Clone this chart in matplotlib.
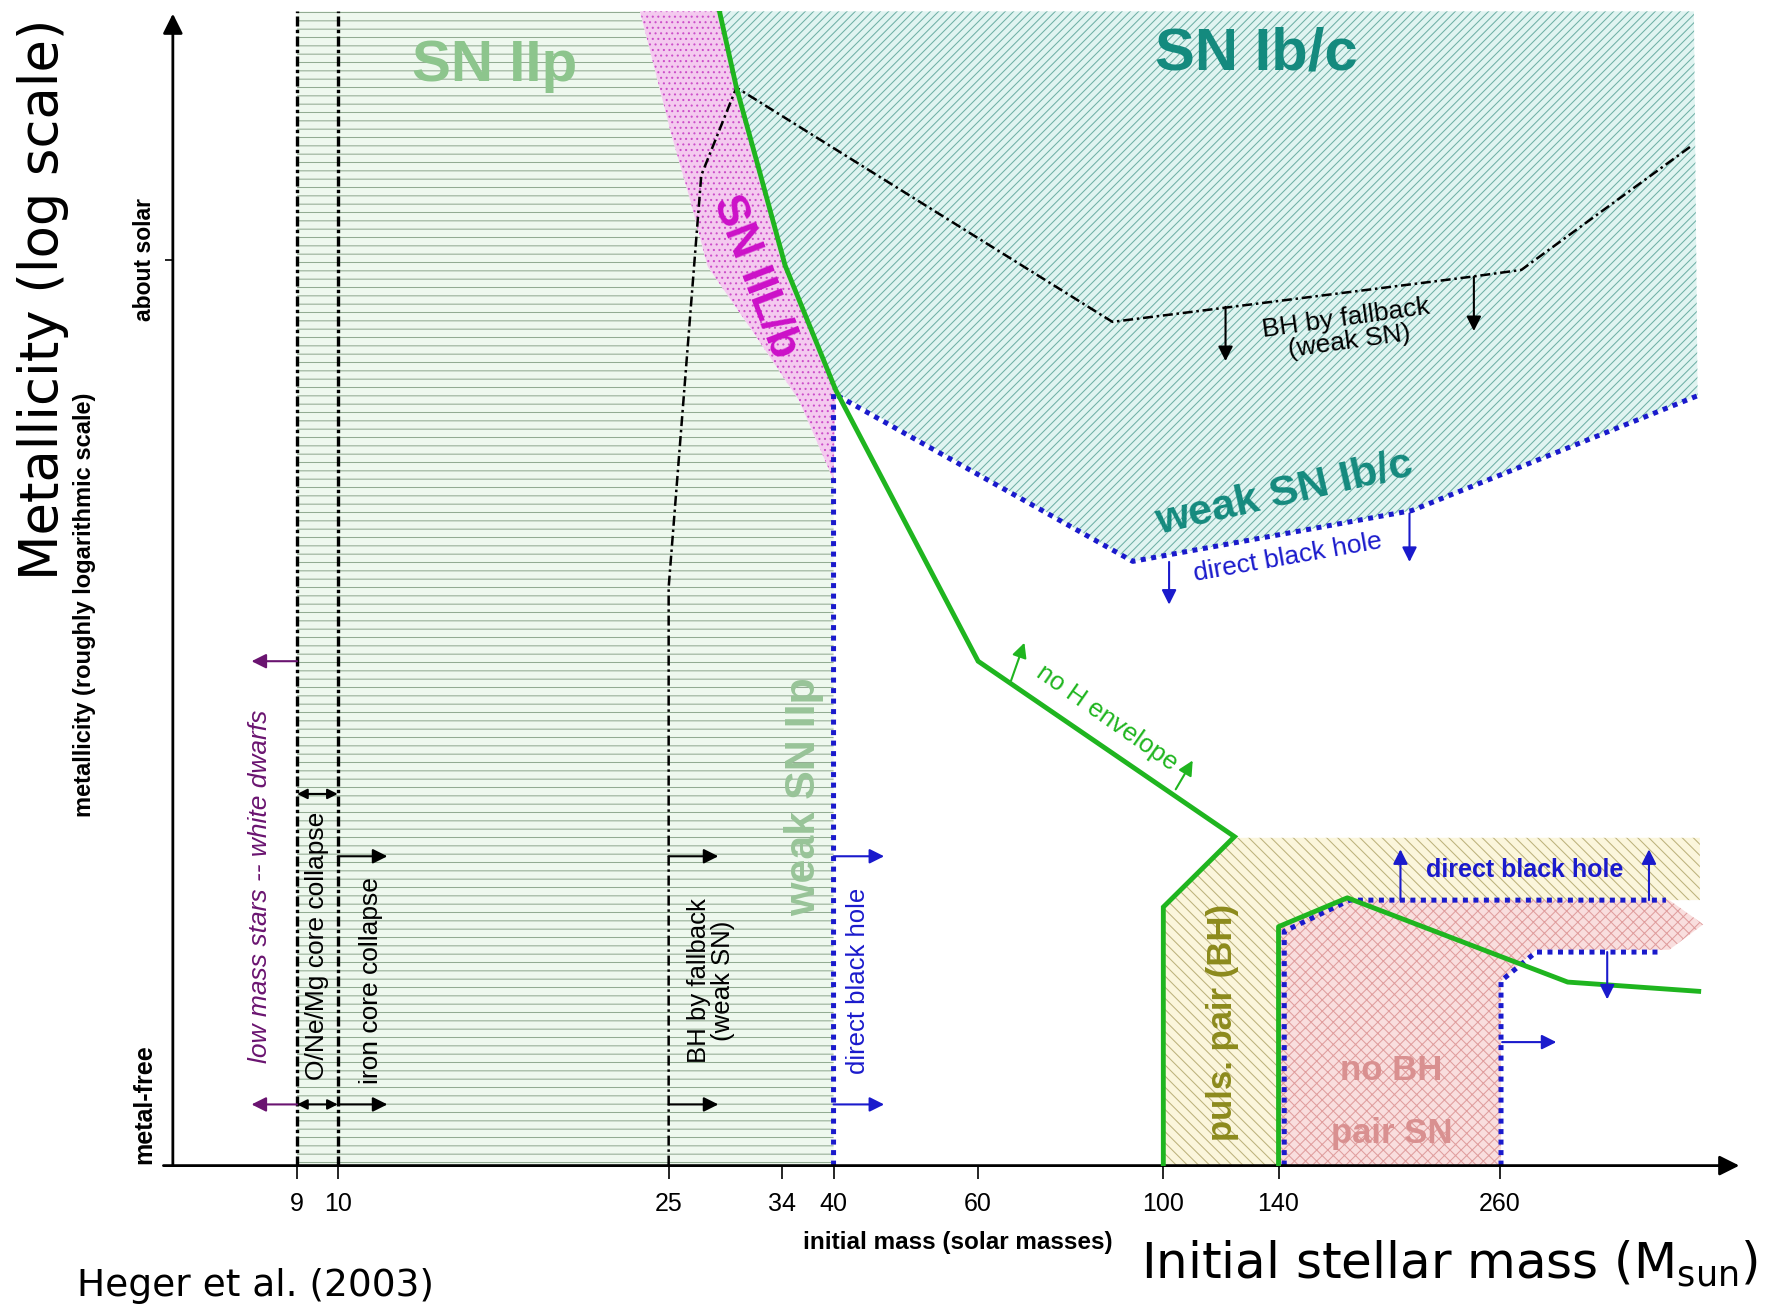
import numpy as np
import matplotlib
matplotlib.use("Agg")
import matplotlib.pyplot as plt

# schematic of supernova type vs initial mass / metallicity (Heger et al. 2003)
# x axis is a stretched mass axis: tick masses sit at fixed spots, so the
# scale is piecewise linear between anchor masses (FuncScale does the work)
MASS_ANCHORS = [6, 9, 10, 25, 34, 40, 60, 100, 140, 260, 500]
POS_ANCHORS = [153, 263, 299, 592, 692, 738, 866, 1030, 1132, 1328, 1545]
TICK_MASSES = [9, 10, 25, 34, 40, 60, 100, 140, 260]
TICK_LABELS = ["9", "10", "25", "34", "40", "60", "100", "140", "260"]

# metallicity is schematic: 0 = bottom of the axis, 100 = top
SOLAR_Z = 78.5
METAL_FREE_Z = 5.3

# ---- regions (mass, metallicity) ----
IIP_M = [9, 23.7, 25.2, 26.7, 28.1, 31.8, 36.0, 40, 40, 9]
IIP_Z = [100, 100, 89.4, 83.7, 77.9, 72.1, 66.3, 59.4, 0, 0]

IILB_M = [23.7, 29.05, 30.4, 32.2, 34.4, 40.3, 40, 36.0, 31.8, 28.1, 26.7, 25.2]
IILB_Z = [100, 100, 93.4, 86.3, 78.0, 67.2, 59.4, 66.3, 72.1, 77.9, 83.7, 89.4]

IBC_M = [29.05, 450, 453.6, 212.2, 93.4, 40.6, 40.3, 34.4, 32.2, 30.4]
IBC_Z = [100, 100, 66.7, 56.75, 52.35, 66.9, 67.2, 78.0, 86.3, 93.4]

PULS_M = [100, 100, 124.7, 455.8, 455.8, 178.6, 140, 140]
PULS_Z = [0, 22.4, 28.4, 28.4, 23.0, 23.0, 20.7, 0]

PAIR_M = [140, 140, 177.3, 425.9, 459.1, 425.9, 295.4, 261.1, 261.1]
PAIR_Z = [0, 20.7, 23.0, 23.0, 20.9, 18.7, 18.7, 16.0, 0]

# ---- boundary lines ----
H_ENV_M = [29.05, 30.4, 32.2, 34.4, 40.3, 60, 124.7, 100, 100]
H_ENV_Z = [100, 93.4, 86.3, 78.0, 67.2, 43.7, 28.5, 22.4, 0]
PAIR_EDGE_M = [140, 140, 177.3, 326.4, 454.7]
PAIR_EDGE_Z = [0, 20.7, 23.2, 15.9, 15.1]
FALLBACK_M = [25, 25, 27.6, 30.4, 89.0, 244.1, 281.0, 446.9]
FALLBACK_Z = [0, 50.1, 85.8, 93.4, 73.1, 77.0, 77.6, 88.3]
DIRECT_BH_M = [40, 40, 93.4, 212.2, 453.6]
DIRECT_BH_Z = [0, 66.9, 52.35, 56.75, 66.7]
PAIR_BH_M = [143.1, 143.1, 178.6, 422.6]
PAIR_BH_Z = [0, 20.3, 23.0, 23.0]
NO_BH_M = [261.1, 261.1, 295.4, 417.1]
NO_BH_Z = [0, 16.0, 18.5, 18.5]
WD_LIMITS = [9, 10]

PURPLE = "#6a1470"
BLUE = "#1a1acc"
GREEN = "#1fb51f"

# arrows: start mass, start z, end mass, end z, colour
ARROWS = [
    (9, 43.7, 7.9, 43.7, PURPLE),
    (9, 5.3, 7.9, 5.3, PURPLE),
    (10, 26.8, 12.25, 26.8, "black"),
    (10, 5.3, 12.25, 5.3, "black"),
    (25, 26.8, 28.96, 26.8, "black"),
    (25, 5.3, 28.96, 5.3, "black"),
    (40, 26.8, 47.0, 26.8, BLUE),
    (40, 5.3, 47.0, 5.3, BLUE),
    (121.6, 74.4, 121.6, 69.7, "black"),
    (245.9, 77.0, 245.9, 72.3, "black"),
    (102.0, 52.3, 102.0, 48.6, BLUE),
    (211.0, 56.5, 211.0, 52.3, BLUE),
    (67.1, 42.0, 70.0, 45.3, GREEN),
    (104.3, 32.6, 110.2, 35.1, GREEN),
    (206.1, 23.0, 206.1, 27.4, BLUE),
    (406.0, 23.0, 406.0, 27.4, BLUE),
    (365.1, 18.5, 365.1, 14.4, BLUE),
    (262.2, 10.7, 315.3, 10.7, BLUE),
]
DOUBLE_ARROWS_Z = [32.2, 5.3]


def mass_to_pos(m):
    return np.interp(m, MASS_ANCHORS, POS_ANCHORS)


def pos_to_mass(p):
    return np.interp(p, POS_ANCHORS, MASS_ANCHORS)


plt.rcParams["font.family"] = ["Liberation Sans", "DejaVu Sans"]
plt.rcParams["hatch.linewidth"] = 0.75

fig = plt.figure(figsize=(17.71, 13.06), dpi=100)
fig.patch.set_facecolor("white")
ax = fig.add_axes([0.0976, 0.1075, 0.8877, 0.8838])
ax.set_xscale("function", functions=(mass_to_pos, pos_to_mass))
ax.set_xlim(6, 500)
ax.set_ylim(0, 100)
for s in ax.spines.values():
    s.set_visible(False)

# hatched regions - hatch colour comes from edgecolor, lw=0 hides the outline
def region(m, z, face, hatch_col, hatch):
    ax.fill(m, z, facecolor=face, edgecolor=hatch_col, hatch=hatch,
            linewidth=0, zorder=1)

region(IIP_M, IIP_Z, "#eef8ee", "#92ab92", "--")
region(IILB_M, IILB_Z, "#f4caef", "#cc4ec9", "...")
region(IBC_M, IBC_Z, "#e0f4f1", "#6fb0a6", "////")
region(PULS_M, PULS_Z, "#fbf6dc", "#bcb27c", "\\\\\\")
region(PAIR_M, PAIR_Z, "#f9dede", "#e09e9e", "xxx")

# boundaries
for m in WD_LIMITS:
    ax.plot([m, m], [0, 100], color="black", lw=2.4,
            linestyle=(0, (3, 1, 1, 1)), zorder=3)
ax.plot(FALLBACK_M, FALLBACK_Z, color="black", lw=1.8,
        linestyle=(0, (4, 1.5, 1, 1.5)), zorder=3)
for m, z in ((DIRECT_BH_M, DIRECT_BH_Z), (PAIR_BH_M, PAIR_BH_Z), (NO_BH_M, NO_BH_Z)):
    ax.plot(m, z, color=BLUE, lw=3.6, linestyle=(0, (1, 1.1)), zorder=3)
ax.plot(H_ENV_M, H_ENV_Z, color=GREEN, lw=3.5, zorder=4, solid_joinstyle="miter")
ax.plot(PAIR_EDGE_M, PAIR_EDGE_Z, color=GREEN, lw=3.5, zorder=4)

for m0, z0, m1, z1, c in ARROWS:
    ax.annotate("", xy=(m1, z1), xytext=(m0, z0),
                arrowprops=dict(arrowstyle="-|>", color=c, lw=1.5,
                                mutation_scale=22, shrinkA=0, shrinkB=0),
                zorder=5)
for z in DOUBLE_ARROWS_Z:
    ax.annotate("", xy=(WD_LIMITS[1], z), xytext=(WD_LIMITS[0], z),
                arrowprops=dict(arrowstyle="<|-|>", color="black", lw=1.5,
                                mutation_scale=15, shrinkA=0, shrinkB=0),
                zorder=5)

# axes drawn as arrows, like the original sketch
ax.annotate("", xy=(0.9964, 0), xytext=(-0.006, 0), xycoords="axes fraction",
            arrowprops=dict(arrowstyle="-|>", color="black", lw=2,
                            mutation_scale=30, shrinkA=0, shrinkB=0))
ax.annotate("", xy=(0, 0.998), xytext=(0, 0), xycoords="axes fraction",
            arrowprops=dict(arrowstyle="-|>", color="black", lw=2,
                            mutation_scale=30, shrinkA=0, shrinkB=0))

ax.set_xticks(TICK_MASSES, TICK_LABELS)
ax.xaxis.set_minor_locator(matplotlib.ticker.NullLocator())
ax.tick_params(axis="x", direction="out", length=9, width=1.2, pad=10,
               labelsize=18)
ax.set_yticks([SOLAR_Z], [""])
ax.tick_params(axis="y", direction="out", length=6, width=1.2)

yx = ax.get_yaxis_transform()
ax.text(-0.018, SOLAR_Z, "about solar", transform=yx, rotation=90,
        ha="center", va="center", fontsize=16.5, fontweight="bold")
ax.text(-0.018, METAL_FREE_Z, "metal-free", transform=yx, rotation=90,
        ha="center", va="center", fontsize=18, fontweight="bold")

# region labels
ax.text(17.1, 95.3, "SN IIp", color="#8dc58d", fontsize=42, fontweight="bold",
        ha="center", va="center", zorder=6)
ax.text(132.2, 96.3, "SN Ib/c", color="#148a7e", fontsize=43, fontweight="bold",
        ha="center", va="center", zorder=6)
ax.text(31.9, 77.0, "SN IIL/b", color="#cc10c8", fontsize=33, fontweight="bold",
        rotation=-69, ha="center", va="center", zorder=6, rotation_mode="anchor")
ax.text(143.1, 58.2, "weak SN Ib/c", color="#148a7e", fontsize=31,
        fontweight="bold", rotation=13, ha="center", va="center", zorder=6)
ax.text(36.6, 32.0, "weak SN IIp", color="#98c498", fontsize=31,
        fontweight="bold", rotation=90, ha="center", va="center", zorder=6)
ax.text(120.4, 12.4, "puls. pair (BH)", color="#8c8a1c", fontsize=25,
        fontweight="bold", rotation=90, ha="center", va="center", zorder=6)
ax.text(201.2, 8.2, "no BH", color="#d99090", fontsize=25, fontweight="bold",
        ha="center", va="center", zorder=6)
ax.text(201.2, 2.8, "pair SN", color="#d99090", fontsize=25, fontweight="bold",
        ha="center", va="center", zorder=6)

# annotation labels
ax.text(8.1, 24.2, "low mass stars -- white dwarfs", color=PURPLE,
        fontsize=19, style="italic", rotation=90, ha="center", va="center",
        zorder=6)
ax.text(9.5, 19.0, "O/Ne/Mg core collapse", fontsize=19, rotation=90,
        ha="center", va="center", zorder=6)
ax.text(11.5, 16.0, "iron core collapse", fontsize=19, rotation=90,
        ha="center", va="center", zorder=6)
ax.text(28.4, 16.0, "BH by fallback\n(weak SN)", fontsize=18.5, rotation=90,
        ha="center", va="center", zorder=6, linespacing=1.0)
ax.text(43.4, 16.0, "direct black hole", color=BLUE, fontsize=18.5,
        rotation=90, ha="center", va="center", zorder=6)
ax.text(177.3, 72.4, "BH by fallback\n(weak SN)", fontsize=19, rotation=8,
        ha="center", va="center", zorder=6, linespacing=1.0)
ax.text(144.9, 52.7, "direct black hole", color=BLUE, fontsize=19,
        rotation=10, ha="center", va="center", zorder=6)
ax.text(87.8, 38.8, "no H envelope", color=GREEN, fontsize=18.5,
        rotation=-35, ha="center", va="center", zorder=6)
ax.text(284.3, 25.6, "direct black hole", color=BLUE, fontsize=18,
        fontweight="bold", ha="center", va="center", zorder=6)

# axis titles
fig.text(0.541, 0.049, "initial mass (solar masses)", fontsize=17.5,
         fontweight="bold", ha="center", va="center")
fig.text(0.0478, 0.537, "metallicity (roughly logarithmic scale)",
         fontsize=17, fontweight="bold", rotation=90, ha="center", va="center")
fig.text(0.0243, 0.771, "Metallicity (log scale)", family="DejaVu Sans",
         fontsize=38, rotation=90, ha="center", va="center")
fig.text(0.644, 0.021, r"Initial stellar mass (M$_{\mathregular{sun}}$)",
         family="DejaVu Sans", fontsize=36, ha="left", va="baseline")
fig.text(0.0434, 0.008, "Heger et al. (2003)", family="DejaVu Sans",
         fontsize=27, ha="left", va="baseline")

fig.savefig("out.png", dpi=100, facecolor="white")
